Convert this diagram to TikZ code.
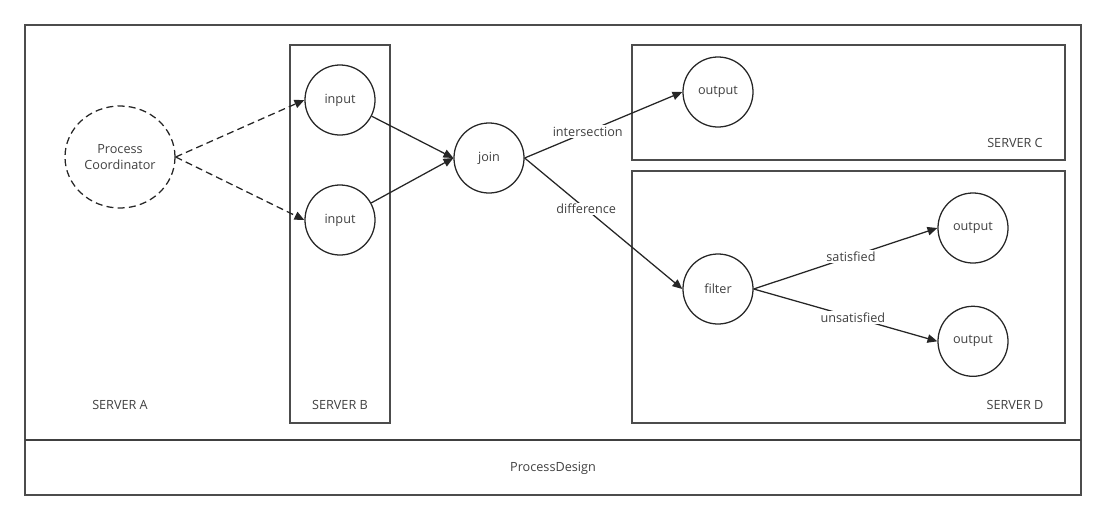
\documentclass[tikz,border=0pt]{standalone}
\usepackage{fontspec}
\setmainfont{Open Sans}
\usetikzlibrary{positioning,arrows.meta,shapes.geometric}

\begin{document}
\begin{tikzpicture}[x=0.025cm,y=-0.025cm,>={Triangle[length=7pt,width=6pt]},
   every node/.style={font=\fontsize{9}{11}\selectfont,text=black!75},
   proc/.style={circle,draw=black!85,line width=0.9pt,minimum size=1.75cm,inner sep=0pt},
   server/.style={draw=black!70,line width=0.9pt},
   flow/.style={->,draw=black!85,line width=0.9pt},
   tag/.style={fill=white,inner sep=1pt}]
  \useasboundingbox (0,0) rectangle (1107,520);
  % frames
  \draw[server] (25,25) rectangle (1081,495);
  \draw[black!75,line width=1.7pt] (25,440) -- (1081,440);
  \draw[server] (290,45) rectangle (390,423);
  \draw[server] (632,45) rectangle (1065,160);
  \draw[server] (632,171) rectangle (1065,423);
  \node (srvA) at (120,405) {SERVER A};
  \node (srvB) at (340,405) {SERVER B};
  \node (srvC) at (1015,143) {SERVER C};
  \node (srvD) at (1015,405) {SERVER D};
  \node (design) at (553,468) {ProcessDesign};
  % processes
  \node[ellipse,draw=black!85,line width=0.9pt,dash pattern=on 5pt off 3pt,
        minimum width=2.75cm,minimum height=2.55cm,align=center,inner sep=0pt]
        (coord) at (120,157) {Process\\Coordinator};
  \node[proc] (in1) at (340,100) {input};
  \node[proc] (in2) at (340,220) {input};
  \node[proc] (join) at (489,158) {join};
  \node[proc] (outC) at (718,92) {output};
  \node[proc] (filter) at (718,289) {filter};
  \node[proc] (outD1) at (973,228) {output};
  \node[proc] (outD2) [below=1.05cm of outD1] {output};
  % flows
  \draw[flow,dash pattern=on 5pt off 3pt] (coord.east) -- (in1.west);
  \draw[flow,dash pattern=on 5pt off 3pt] (coord.east) -- (in2.west);
  \draw[flow] (in1) -- (join.west);
  \draw[flow] (in2) -- (join.west);
  \draw[flow] (join.east) -- node[tag,pos=0.4] {intersection} (outC.west);
  \draw[flow] (join.east) -- node[tag,pos=0.39] {difference} (filter.west);
  \draw[flow] (filter.east) -- node[tag,pos=0.53] {satisfied} (outD1.west);
  \draw[flow] (filter.east) -- node[tag,pos=0.54] {unsatisfied} (outD2.west);
\end{tikzpicture}
\end{document}
